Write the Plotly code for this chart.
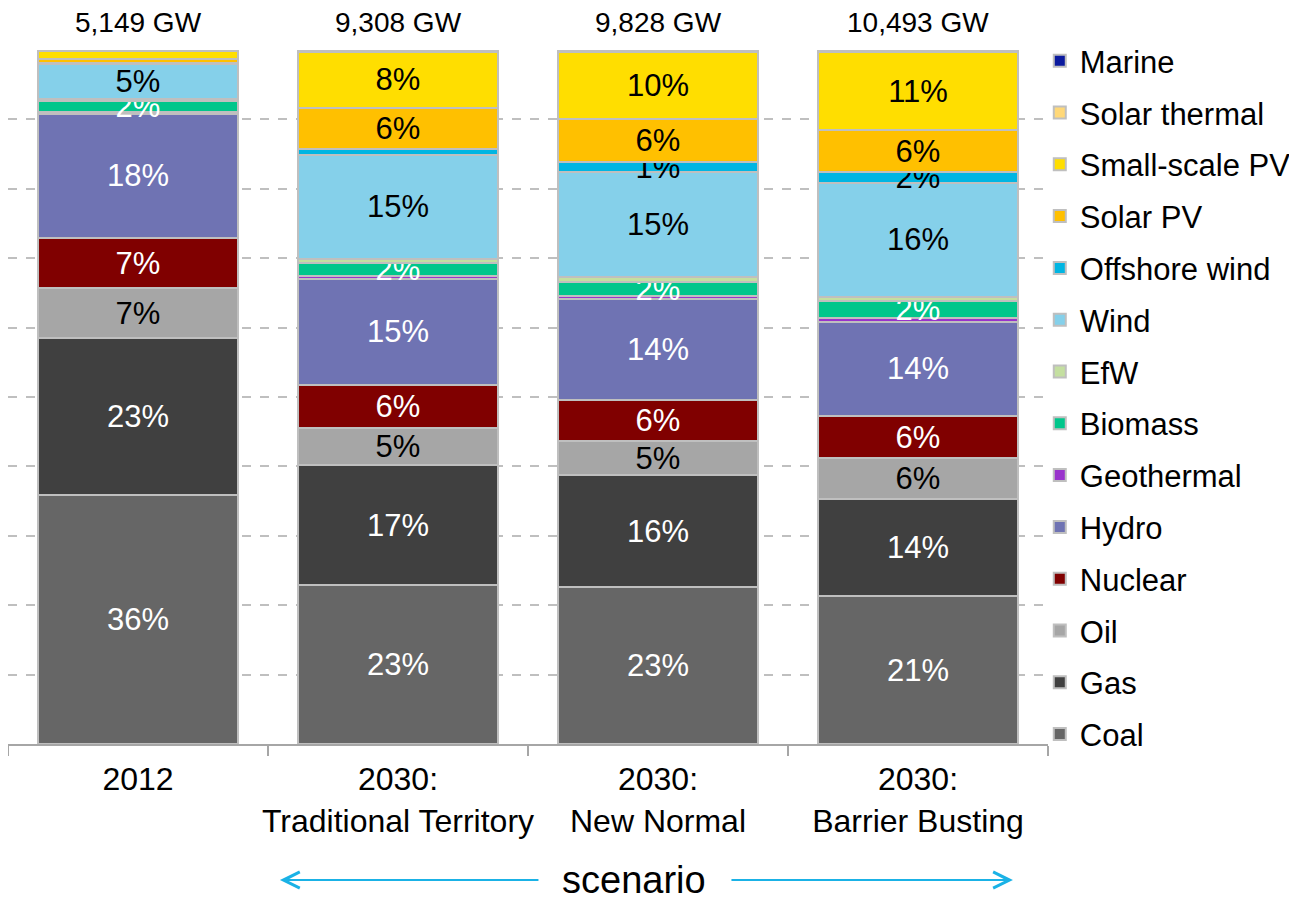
import plotly.graph_objects as go

categories = ["2012", "2030:<br>Traditional Territory", "2030:<br>New Normal", "2030:<br>Barrier Busting"]
totals = ["5,149 GW", "9,308 GW", "9,828 GW", "10,493 GW"]

# share of capacity (%) per source, bottom to top of stack
coal = [35.9, 22.9, 22.6, 21.3]
gas = [22.6, 17.3, 16.1, 14.0]
oil = [7.2, 5.3, 5.0, 5.9]
nuclear = [7.2, 6.3, 5.9, 6.05]
hydro = [17.9, 15.2, 14.5, 13.6]
geothermal = [0.3, 0.5, 0.4, 0.6]
biomass = [1.5, 1.8, 2.1, 2.4]
efw = [0.4, 0.6, 0.7, 0.6]
wind = [5.0, 15.0, 15.1, 16.4]
offshore_wind = [0.1, 0.8, 1.4, 1.5]
solar_pv = [0.6, 6.0, 6.2, 6.1]
small_scale_pv = [1.1, 8.0, 9.65, 11.2]
solar_thermal = [0.2, 0.3, 0.3, 0.35]
marine = [0.0, 0.0, 0.0, 0.0]

series = [
    ("Coal", coal, "#666666", "white"),
    ("Gas", gas, "#404040", "white"),
    ("Oil", oil, "#A6A6A6", "black"),
    ("Nuclear", nuclear, "#800000", "white"),
    ("Hydro", hydro, "#6F73B3", "white"),
    ("Geothermal", geothermal, "#9933CC", "white"),
    ("Biomass", biomass, "#00C68B", "white"),
    ("EfW", efw, "#C4DFA0", "black"),
    ("Wind", wind, "#85D0EA", "black"),
    ("Offshore wind", offshore_wind, "#00B5E2", "black"),
    ("Solar PV", solar_pv, "#FFC000", "black"),
    ("Small-scale PV", small_scale_pv, "#FFDE00", "black"),
    ("Solar thermal", solar_thermal, "#FFD878", "black"),
    ("Marine", marine, "#0B1A9E", "white"),
]

FONT = "Liberation Sans, Arial, sans-serif"

fig = go.Figure()
for i, (name, vals, color, tcol) in enumerate(series):
    labels = [f"{round(v)}%" if v >= 1.2 else "" for v in vals]
    fig.add_trace(go.Bar(
        name=name, x=categories, y=vals,
        marker=dict(color=color, line=dict(color="#BFBFBF", width=2)),
        text=labels, textposition="inside", insidetextanchor="middle",
        constraintext="none", cliponaxis=False,
        textfont=dict(family=FONT, size=31, color=tcol),
        legendgroup=name, legendrank=1000 - i, hoverinfo="skip",
    ))

for idx, tot in enumerate(totals):
    fig.add_annotation(x=idx, y=100, xref="x", yref="y", text=tot, showarrow=False,
                       yanchor="bottom", yshift=10, font=dict(family=FONT, size=28, color="black"))

# scenario arrows
arrow_col = "#1AB2E6"
fig.add_annotation(x=0.2615, y=-0.196, xref="paper", yref="paper", text="", showarrow=True,
                   ax=260, ay=0, arrowhead=5, arrowsize=1.6, arrowwidth=2, arrowcolor=arrow_col)
fig.add_annotation(x=0.9663, y=-0.196, xref="paper", yref="paper", text="", showarrow=True,
                   ax=-283, ay=0, arrowhead=5, arrowsize=1.6, arrowwidth=2, arrowcolor=arrow_col)
fig.add_annotation(x=0.6022, y=-0.196, xref="paper", yref="paper", text="scenario", showarrow=False,
                   xanchor="center", yanchor="middle",
                   font=dict(family=FONT, size=38, color="black"))

# the page adds an 8px body margin, so the figure is 8px smaller and shifted
fig.update_layout(
    template="none",
    barmode="stack", bargap=0.23,
    width=1289, height=892,
    margin=dict(l=0, r=249, t=42, b=156, autoexpand=False),
    plot_bgcolor="white", paper_bgcolor="white",
    font=dict(family=FONT, color="black"),
    legend=dict(traceorder="grouped", tracegroupgap=8.5, maxheight=900,
                x=0.9921, xanchor="left", y=1.023, yanchor="top",
                font=dict(family=FONT, size=31, color="black"),
                bgcolor="rgba(0,0,0,0)"),
    xaxis=dict(type="category", range=[-0.5, 3.5], automargin=False, showline=True,
               linecolor="#A6A6A6", linewidth=2, tickangle=0,
               ticks="outside", tickson="boundaries", ticklen=10, tickwidth=2, tickcolor="#A6A6A6",
               ticklabelstandoff=6,
               tickfont=dict(family=FONT, size=32, color="black"),
               showgrid=False, fixedrange=True),
    yaxis=dict(automargin=False, range=[0, 100], dtick=10, showgrid=True, gridcolor="#BFBFBF", griddash="dash",
               gridwidth=1.5, showticklabels=False, zeroline=False, showline=False, fixedrange=True),
    showlegend=True,
)

fig.write_html("out.html")
